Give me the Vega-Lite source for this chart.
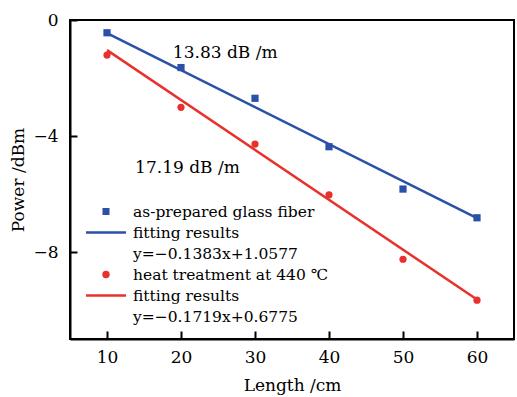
{
  "$schema": "https://vega.github.io/schema/vega-lite/v6.json",
  "width": 444,
  "height": 319,
  "autosize": {"type": "none"},
  "padding": {"left": 70, "top": 20, "right": 3, "bottom": 58},
  "background": "white",
  "config": {
    "font": "DejaVu Serif",
    "view": {"stroke": "black", "strokeWidth": 2}
  },
  "datasets": {
    "points": [
      {"length": 10, "power": -0.44, "series": "a1"},
      {"length": 20, "power": -1.64, "series": "a1"},
      {"length": 30, "power": -2.7, "series": "a1"},
      {"length": 40, "power": -4.37, "series": "a1"},
      {"length": 50, "power": -5.83, "series": "a1"},
      {"length": 60, "power": -6.82, "series": "a1"},
      {"length": 10, "power": -1.21, "series": "b1"},
      {"length": 20, "power": -3.01, "series": "b1"},
      {"length": 30, "power": -4.28, "series": "b1"},
      {"length": 40, "power": -6.03, "series": "b1"},
      {"length": 50, "power": -8.25, "series": "b1"},
      {"length": 60, "power": -9.66, "series": "b1"}
    ],
    "fits": [
      {"length": 10, "power": -0.45, "fit": "a2"},
      {"length": 60, "power": -6.83, "fit": "a2"},
      {"length": 10, "power": -1.04, "fit": "b2"},
      {"length": 60, "power": -9.64, "fit": "b2"}
    ],
    "notes": [
      {"length": 18.9, "power": -1.13, "text": "13.83 dB /m"},
      {"length": 13.8, "power": -5.1, "text": "17.19 dB /m"}
    ]
  },
  "encoding": {
    "x": {
      "field": "length", "type": "quantitative",
      "scale": {"domain": [5, 65], "nice": false, "zero": false},
      "axis": {
        "title": "Length /cm", "values": [10, 20, 30, 40, 50, 60], "grid": false,
        "domainColor": "black", "domainWidth": 2, "tickColor": "black", "tickWidth": 2,
        "tickSize": -8, "labelPadding": 18, "labelFontSize": 17, "labelColor": "black",
        "titleFontSize": 17, "titleFontWeight": "normal", "titleColor": "black", "titlePadding": 12,
        "labelFont": "DejaVu Serif", "titleFont": "DejaVu Serif"
      }
    },
    "y": {
      "field": "power", "type": "quantitative",
      "scale": {"domain": [-11, 0], "nice": false, "zero": false},
      "axis": {
        "title": "Power /dBm", "values": [0, -4, -8], "grid": false,
        "domainColor": "black", "domainWidth": 2, "tickColor": "black", "tickWidth": 2,
        "tickSize": -7, "labelPadding": 19, "labelFontSize": 17, "labelColor": "black",
        "titleFontSize": 17, "titleFontWeight": "normal", "titleColor": "black", "titlePadding": 5,
        "labelFont": "DejaVu Serif", "titleFont": "DejaVu Serif",
        "labelExpr": "replace(datum.label, '-', '−')"
      }
    }
  },
  "layer": [
    {
      "data": {"name": "fits"},
      "mark": {"type": "line", "strokeWidth": 2.5},
      "encoding": {
        "detail": {"field": "fit"},
        "stroke": {
          "field": "fit", "type": "nominal",
          "scale": {"domain": ["a2", "b2"], "range": ["#2a50a8", "#e8302c"]},
          "legend": null
        }
      }
    },
    {
      "data": {"name": "points"},
      "mark": {"type": "point", "filled": true, "opacity": 1, "size": 52},
      "encoding": {
        "shape": {
          "field": "series", "type": "nominal",
          "scale": {"domain": ["a1", "a2", "a3", "b1", "b2", "b3"], "range": ["square", "stroke", "square", "circle", "stroke", "circle"]},
          "legend": null
        },
        "color": {
          "field": "series", "type": "nominal",
          "scale": {"domain": ["a1", "a2", "a3", "b1", "b2", "b3"], "range": ["#2a50a8", "#2a50a8", "transparent", "#e8302c", "#e8302c", "transparent"]},
          "legend": {
            "title": null,
            "orient": "none",
            "legendX": 16,
            "legendY": 181,
            "padding": 0,
            "symbolSize": 1600,
            "clipHeight": 21,
            "rowPadding": 0,
            "labelOffset": 7,
            "labelFontSize": 15.5,
            "labelFont": "DejaVu Serif",
            "labelColor": "black",
            "labelLimit": 400,
            "labelExpr": "{'a1': 'as-prepared glass fiber', 'a2': 'fitting results', 'a3': 'y=−0.1383x+1.0577', 'b1': 'heat treatment at 440 ℃', 'b2': 'fitting results', 'b3': 'y=−0.1719x+0.6775'}[datum.value]",
            "encoding": {
              "symbols": {
                "x": {"value": 20},
                "shape": {"value": {"expr": "datum.value == 'a1' ? 'square' : (datum.value == 'a2' || datum.value == 'b2') ? 'stroke' : 'circle'"}},
                "size": {"value": {"expr": "(datum.value == 'a2' || datum.value == 'b2') ? 1600 : datum.value == 'a1' ? 49 : 55"}},
                "fill": {"value": {"expr": "(datum.value == 'a1') ? '#2a50a8' : (datum.value == 'b1') ? '#e8302c' : 'transparent'"}},
                "stroke": {"value": {"expr": "(datum.value == 'a2') ? '#2a50a8' : (datum.value == 'b2') ? '#e8302c' : 'transparent'"}},
                "strokeWidth": {"value": 2.5},
                "opacity": {"value": 1}
              },
              "labels": {
                "x": {"value": 47}
              }
            }
          }
        }
      }
    },
    {
      "data": {"name": "notes"},
      "mark": {"type": "text", "align": "left", "baseline": "middle", "fontSize": 17, "font": "DejaVu Serif", "color": "black"},
      "encoding": {
        "text": {"field": "text"}
      }
    }
  ]
}
